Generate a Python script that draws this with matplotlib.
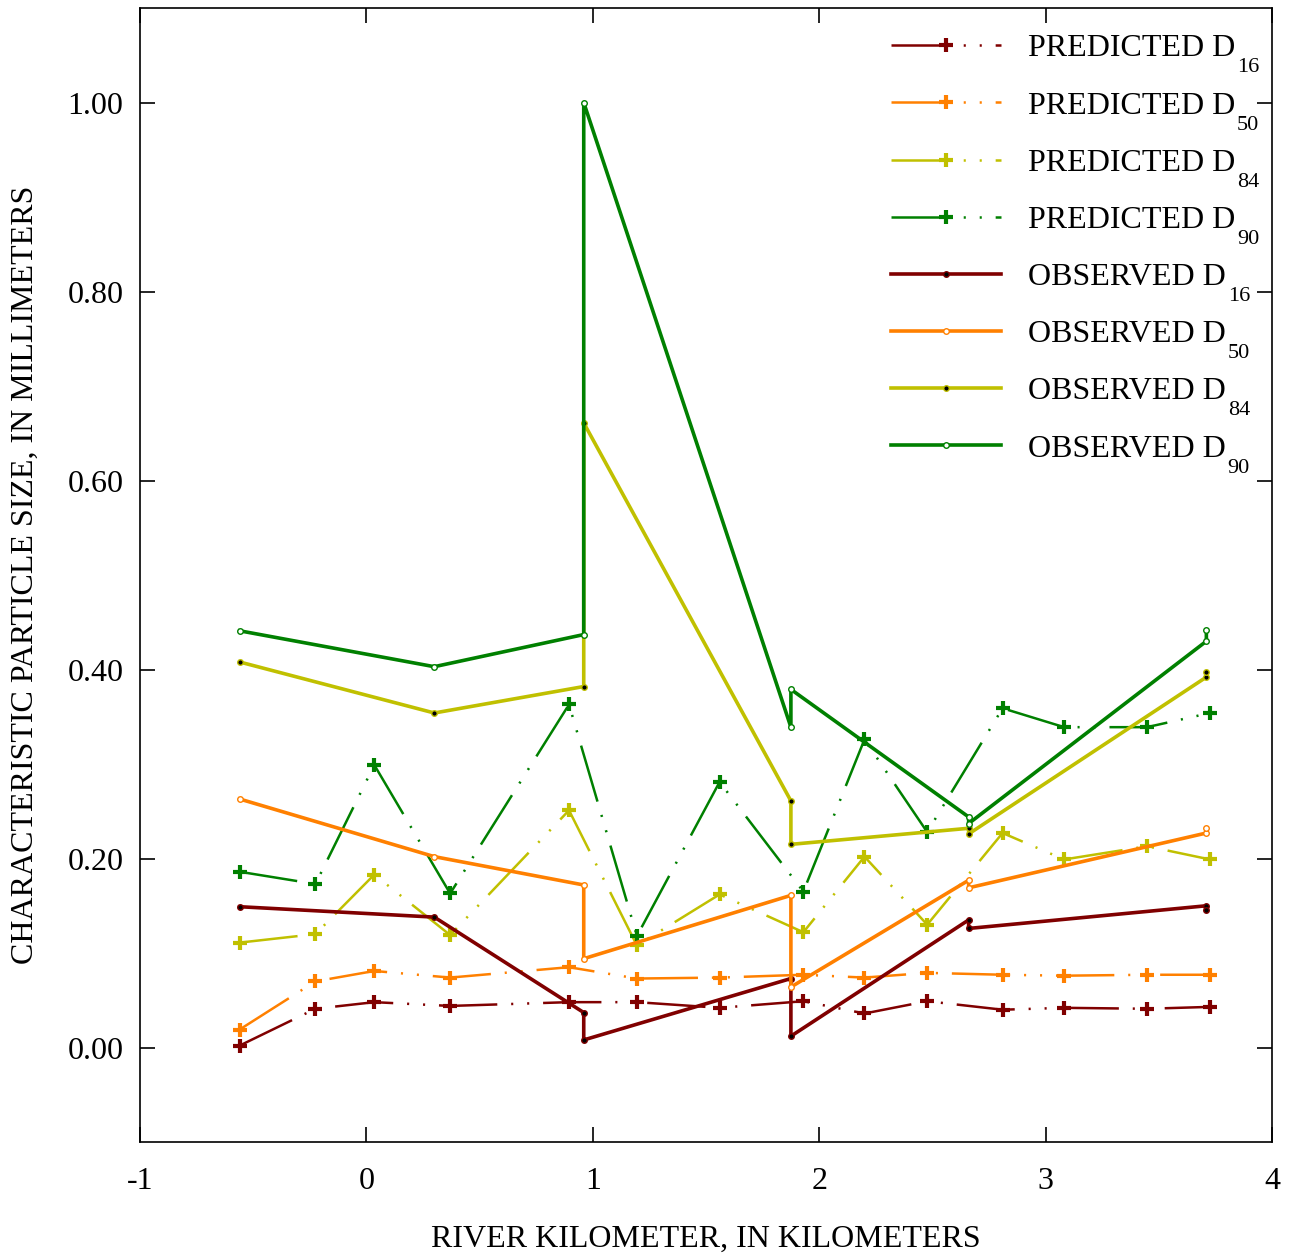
import matplotlib
matplotlib.use("Agg")
import matplotlib.pyplot as plt
from matplotlib.ticker import FormatStrFormatter, MultipleLocator

plt.rcParams['font.family'] = ['Liberation Serif', 'DejaVu Serif']
plt.rcParams['axes.unicode_minus'] = False
plt.rcParams['lines.scale_dashes'] = False

# predicted sizes at model nodes (river km)
pred_km = [-0.56, -0.225, 0.035, 0.37, 0.895, 1.195, 1.56, 1.93, 2.2, 2.477, 2.81, 3.082, 3.448, 3.726]
pred_d16 = [0.002, 0.041, 0.048, 0.044, 0.048, 0.048, 0.042, 0.049, 0.036, 0.049, 0.040, 0.042, 0.041, 0.043]
pred_d50 = [0.019, 0.070, 0.081, 0.074, 0.085, 0.073, 0.074, 0.077, 0.074, 0.079, 0.077, 0.076, 0.077, 0.077]
pred_d84 = [0.111, 0.120, 0.183, 0.119, 0.251, 0.108, 0.162, 0.122, 0.202, 0.130, 0.227, 0.199, 0.213, 0.199]
pred_d90 = [0.186, 0.173, 0.299, 0.163, 0.363, 0.118, 0.281, 0.165, 0.326, 0.228, 0.359, 0.339, 0.339, 0.354]

# observed samples
obs_km = [-0.56, 0.30, 0.96, 0.96, 1.875, 1.875, 2.66, 2.66, 3.71, 3.71]
obs_d16 = [0.149, 0.138, 0.037, 0.008, 0.073, 0.012, 0.135, 0.126, 0.150, 0.146]
obs_d50 = [0.263, 0.202, 0.172, 0.094, 0.161, 0.064, 0.177, 0.169, 0.227, 0.232]
obs_d84 = [0.408, 0.354, 0.382, 0.661, 0.261, 0.215, 0.232, 0.226, 0.392, 0.397]
obs_d90 = [0.441, 0.403, 0.437, 1.000, 0.339, 0.379, 0.244, 0.237, 0.430, 0.442]

names = ['16', '50', '84', '90']
colors = ['#800000', '#ff8000', '#c0c000', '#008000']
obs_face = ['black', 'white', 'black', 'white']

fig = plt.figure(figsize=(12.96, 12.58), dpi=100)
ax = fig.add_axes([0.108, 0.0922, 0.8735, 0.9014])

dash_pat = (0, (42, 10, 1.5, 10, 1.5, 10))
for vals, c in zip([pred_d16, pred_d50, pred_d84, pred_d90], colors):
    ax.plot(pred_km, vals, color=c, lw=1.8, linestyle=dash_pat,
            marker='+', ms=10, mew=3, label='PREDICTED D')

for vals, c, fc in zip([obs_d16, obs_d50, obs_d84, obs_d90], colors, obs_face):
    ax.plot(obs_km, vals, color=c, lw=2.6, marker='o', ms=4, mew=1,
            mfc=fc, mec=c, label='OBSERVED D')

ax.set_xlim(-1, 4)
ax.set_ylim(-0.10, 1.10)
ax.xaxis.set_major_locator(MultipleLocator(1))
ax.set_yticks([0.0, 0.2, 0.4, 0.6, 0.8, 1.0])
ax.yaxis.set_major_formatter(FormatStrFormatter('%.2f'))
ax.tick_params(direction='in', length=11, width=1.2, labelsize=23,
               top=True, right=True)
ax.tick_params(axis='x', pad=18)
ax.tick_params(axis='y', pad=12)
for s in ax.spines.values():
    s.set_linewidth(1.2)

ax.set_xlabel('RIVER KILOMETER, IN KILOMETERS', fontsize=23, labelpad=21)
ax.set_ylabel('CHARACTERISTIC PARTICLE SIZE, IN MILLIMETERS', fontsize=23, labelpad=20)

leg = ax.legend(loc='upper left', bbox_to_anchor=(0.663, 0.977), frameon=False,
                fontsize=23, handlelength=3.45, handletextpad=0.85, labelspacing=0.87,
                borderpad=0, borderaxespad=0, numpoints=1)

# gnuplot-style low subscripts after the legend labels
fig.canvas.draw()
inv = fig.transFigure.inverted()
for txt, n in zip(leg.get_texts(), names * 2):
    bb = txt.get_window_extent()
    x, y = inv.transform((bb.x1 + 2, bb.y0 - 9))
    fig.text(x, y, n, fontsize=16, va='baseline', ha='left')

fig.savefig('out.png', dpi=100)
